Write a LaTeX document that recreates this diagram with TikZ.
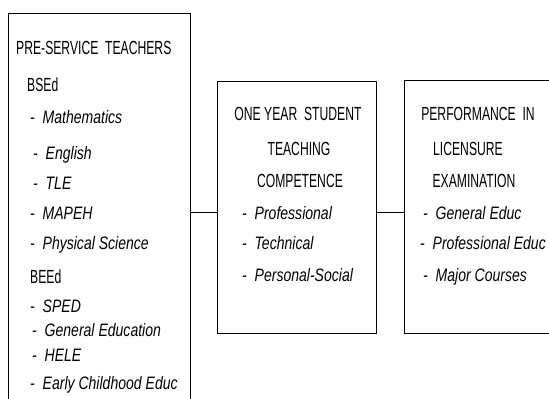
\documentclass[tikz,border=0pt]{standalone}
\usepackage{fontspec}
\setmainfont{Liberation Sans}
\newfontfamily\headfont[FakeStretch=0.64]{Liberation Sans}
\newfontfamily\itemfont[FakeStretch=0.78]{Liberation Sans}
\tikzset{
  box/.style={draw,line width=1.3pt,anchor=north west,inner sep=0pt},
  head/.style={inner sep=0pt,font=\headfont\fontsize{19}{19}\selectfont},
  item/.style={inner sep=0pt,anchor=base west,font=\itemfont\itshape\fontsize{18}{18}\selectfont}
}
\begin{document}
\begin{tikzpicture}[x=1pt,y=-1pt]
\useasboundingbox (0,0) rectangle (549,399);
%boxes
\node[box,minimum width=182pt,minimum height=420pt](pst) at (8,13) {};
\node[box,minimum width=159pt,minimum height=252pt](stc) at (217,81) {};
\node[box,minimum width=170pt,minimum height=253pt](ple) at (404,80) {};
%connectors
\draw[line width=1.3pt]([yshift=-5pt]stc.west)--([yshift=-5pt]stc.west -| pst.east);
\draw[line width=1.3pt]([yshift=-5pt]ple.west)--([yshift=-5pt]ple.west -| stc.east);
%pre-service teachers
\node[head,anchor=base west](psthead) at (16,54) {PRE-SERVICE\ \ TEACHERS};
\node[head,anchor=base west](bsed) at (27,91) {BSEd};
\node[item](math) at (30,123) {-\ \ Mathematics};
\node[item](eng) at (33,159) {-\ \ English};
\node[item](tle) at (33,189) {-\ \ TLE};
\node[item](mapeh) at (30,219) {-\ \ MAPEH};
\node[item](phys) at (30,249) {-\ \ Physical Science};
\node[head,anchor=base west](beed) at (30,283) {BEEd};
\node[item](sped) at (30,312) {-\ \ SPED};
\node[item](gened) at (32,336) {-\ \ General Education};
\node[item](hele) at (32,361) {-\ \ HELE};
\node[item](early) at (30,389) {-\ \ Early Childhood Educ};
%student teaching
\node[head,anchor=base](stchead1) at (298,120) {ONE YEAR\ \ STUDENT};
\node[head,anchor=base](stchead2) at (299,155) {TEACHING};
\node[head,anchor=base](stchead3) at (300,187) {COMPETENCE};
\node[item](prof) at (242,219) {-\ \ Professional};
\node[item](tech) at (242,249) {-\ \ Technical};
\node[item](pers) at (242,281) {-\ \ Personal-Social};
%licensure examination
\node[head,anchor=base](plehead1) at (478,120) {PERFORMANCE\ \ IN};
\node[head,anchor=base](plehead2) at (468,155) {LICENSURE};
\node[head,anchor=base](plehead3) at (474,187) {EXAMINATION};
\node[item](geneduc) at (423,219) {-\ \ General Educ};
\node[item](profeduc) at (420,249) {-\ \ Professional Educ};
\node[item](major) at (423,281) {-\ \ Major Courses};
\end{tikzpicture}
\end{document}
